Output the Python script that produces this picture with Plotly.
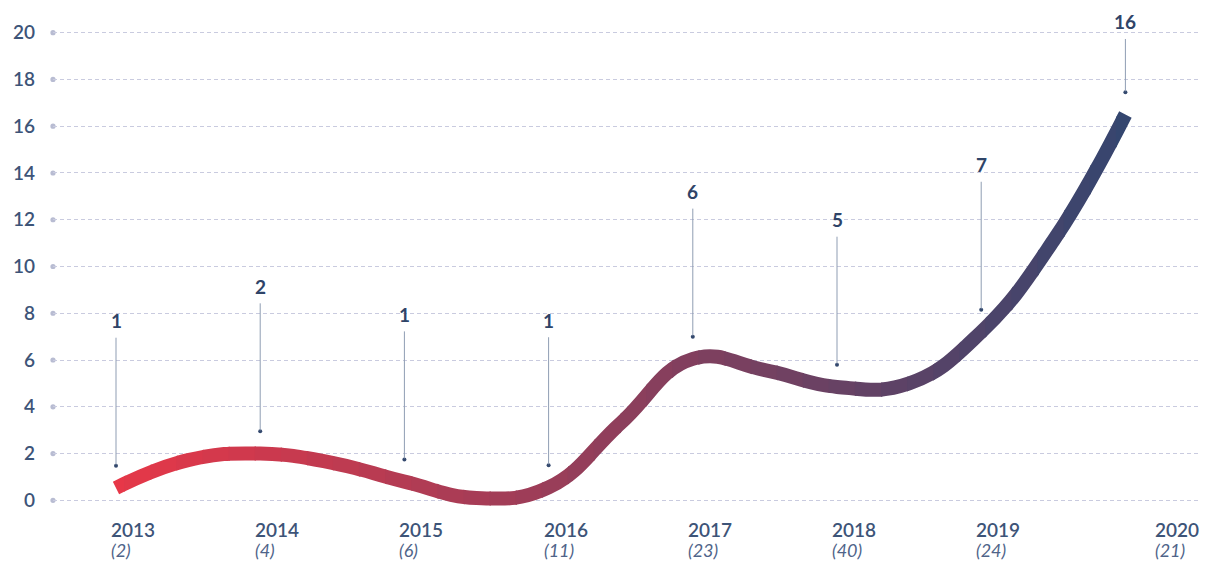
import plotly.graph_objects as go

# ---- data ----
years = [2013, 2014, 2015, 2016, 2017, 2018, 2019, 2020]
counts = ["(2)", "(4)", "(6)", "(11)", "(23)", "(40)", "(24)", "(21)"]
label_values = [1, 2, 1, 1, 6, 5, 7, 16]            # numbers written above the curve
# height of the drawn curve, read at every year and half year
curve_years = [2013, 2013.5, 2014, 2014.5, 2015, 2015.5, 2016, 2016.5,
               2017, 2017.5, 2018, 2018.5, 2019, 2019.5, 2020]
curve_values = [0.53, 1.72, 2.0, 1.6, 0.8, 0.1, 0.55, 3.3,
                6.05, 5.57, 4.85, 5.0, 7.2, 11.1, 16.5]
y_ticks = [0, 2, 4, 6, 8, 10, 12, 14, 16, 18, 20]

# ---- layout constants ----
W, H = 1201, 563
ML, MR, MT, MB = 45, 6, 13, 59
YR = [-0.5, 20.5]
X0_PX = 108          # pixel of the first year (figure coordinates)
STEP_PX = 144.2      # pixels per year
PW = W - ML - MR
PH = H - MT - MB
XR = [years[0] + (ML - X0_PX) / STEP_PX, years[0] + (ML - X0_PX) / STEP_PX + PW / STEP_PX]
UNIT_Y = PH / (YR[1] - YR[0])

TEXT = "#3d5478"
START = (233, 55, 71)
END = (50, 70, 112)


def curve_at(year):
    return curve_values[curve_years.index(year)]


fig = go.Figure()

# gradient line: the same spline drawn in many narrow, slightly overlapping clipped subplots
N = 40
a0, a1 = years[0] - 0.12, years[-1] + 0.12
eps = 0.7 / STEP_PX
layout_axes = {}
for k in range(N):
    lo = a0 + (a1 - a0) * k / N - eps
    hi = a0 + (a1 - a0) * (k + 1) / N + eps
    d0 = (lo - XR[0]) / (XR[1] - XR[0])
    d1 = (hi - XR[0]) / (XR[1] - XR[0])
    t = (k + 0.5) / N
    col = "rgb(%d,%d,%d)" % tuple(round(START[j] + (END[j] - START[j]) * t) for j in range(3))
    layout_axes["xaxis%d" % (k + 2)] = dict(domain=[d0, d1], range=[lo, hi], visible=False,
                                            anchor="y2", fixedrange=True)
    fig.add_trace(go.Scatter(x=curve_years, y=curve_values, mode="lines",
                             line=dict(color=col, width=14, shape="spline", smoothing=1.25),
                             xaxis="x%d" % (k + 2), yaxis="y2",
                             hoverinfo="skip", showlegend=False))

# small dots at the foot of each label leader line (main subplot)
dot_y = [curve_at(y) + 0.95 for y in years]
fig.add_trace(go.Scatter(x=years, y=dot_y, mode="markers",
                         marker=dict(size=4, color="#34496e"),
                         hoverinfo="skip", showlegend=False, cliponaxis=False))

shapes = []
for v in y_ticks:
    shapes.append(dict(type="circle", xref="paper", yref="y", xsizemode="pixel",
                       ysizemode="pixel", xanchor=0, yanchor=v, x0=-2.6, x1=2.6,
                       y0=-2.6, y1=2.6, fillcolor="#b8bcd2", line=dict(width=0),
                       layer="below"))

annotations = []
for i, (yr, cnt) in enumerate(zip(years, counts)):
    shift = 28 if i == len(years) - 1 else -7
    annotations.append(dict(x=yr, y=0, xref="x", yref="y", text=str(yr), showarrow=False,
                            xanchor="left", yanchor="middle", xshift=shift, yshift=-29,
                            font=dict(family="Lato", size=19, color=TEXT, weight=600)))
    annotations.append(dict(x=yr, y=0, xref="x", yref="y", text="<i>%s</i>" % cnt,
                            showarrow=False, xanchor="left", yanchor="middle",
                            xshift=shift, yshift=-50,
                            font=dict(family="Lato", size=18, color="#4f6489", weight=400)))

for i, v in enumerate(label_values):
    dy = dot_y[i]
    dot_px = MT + (YR[1] - dy) * UNIT_Y
    ay = -min(145, dot_px - 14)
    annotations.append(dict(x=years[i], y=dy, xref="x", yref="y", text=str(v),
                            showarrow=True, ax=0, ay=ay, arrowhead=0, arrowwidth=1,
                            arrowcolor="#8f9db3", startstandoff=4, standoff=1,
                            font=dict(family="Lato", size=19, color="#2f4468", weight=700)))

fig.update_layout(
    width=W, height=H,
    margin=dict(l=ML, r=MR, t=MT, b=MB, pad=0),
    paper_bgcolor="white", plot_bgcolor="rgba(0,0,0,0)",
    showlegend=False,
    xaxis=dict(range=XR, visible=False, fixedrange=True),
    yaxis=dict(range=YR, tickvals=y_ticks, showgrid=True, gridcolor="#c9cbdf",
               gridwidth=1, griddash="4px,3px", zeroline=False, showline=False,
               ticks="", ticklabelstandoff=17,
               tickfont=dict(family="Lato", size=19, color=TEXT, weight=600),
               fixedrange=True),
    yaxis2=dict(range=YR, visible=False, anchor="x2", fixedrange=True),
    shapes=shapes,
    annotations=annotations,
    **layout_axes,
)

fig.write_html("out.html")
